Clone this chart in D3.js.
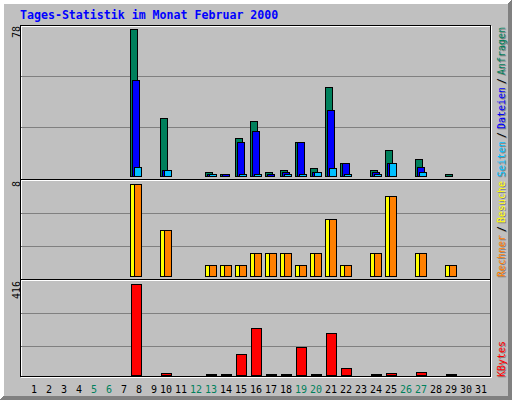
<!DOCTYPE html>
<html>
<head>
<meta charset="utf-8">
<script src="https://cdn.jsdelivr.net/npm/d3@7"></script>
<style>
  body { margin: 0; background: #c0c0c0; }
  text { font-family: "DejaVu Sans Mono", monospace; }
</style>
</head>
<body>
<div id="chart"></div>
<script>
// daily values for February 2000 (index 0 = day 1)
var days = [1, 2, 3, 4, 5, 6, 7, 8, 9, 10, 11, 12, 13, 14, 15, 16, 17, 18, 19, 20, 21, 22, 23, 24, 25, 26, 27, 28, 29, 30, 31];
var weekendDays = [5, 6, 12, 13, 19, 20, 26, 27];

var hits   = [0, 0, 0, 0, 0, 0, 0, 78, 0, 31, 0, 0, 2, 1, 20, 29, 2, 3, 18, 4, 47, 7, 0, 3, 14, 0, 9, 0, 1, 0, 0];
var files  = [0, 0, 0, 0, 0, 0, 0, 51, 0, 3, 0, 0, 1, 1, 18, 24, 1, 2, 18, 2, 35, 7, 0, 2, 7, 0, 5, 0, 0, 0, 0];
var pages  = [0, 0, 0, 0, 0, 0, 0, 5, 0, 3, 0, 0, 1, 0, 1, 1, 0, 1, 1, 2, 4, 1, 0, 1, 7, 0, 2, 0, 0, 0, 0];
var visits = [0, 0, 0, 0, 0, 0, 0, 8, 0, 4, 0, 0, 1, 1, 1, 2, 2, 2, 1, 2, 5, 1, 0, 2, 7, 0, 2, 0, 1, 0, 0];
var sites  = [0, 0, 0, 0, 0, 0, 0, 8, 0, 4, 0, 0, 1, 1, 1, 2, 2, 2, 1, 2, 5, 1, 0, 2, 7, 0, 2, 0, 1, 0, 0];
var kbytes = [0, 0, 0, 0, 0, 0, 0, 416, 0, 8, 0, 0, 4, 4, 95, 213, 4, 4, 128, 4, 190, 30, 0, 4, 9, 0, 14, 0, 4, 0, 0];

var title = "Tages-Statistik im Monat Februar 2000";

var grey = "#c0c0c0", dkgrey = "#808080";
var hitColor = "#00805c", fileColor = "#0000ff", pageColor = "#00c0ff";
var visitColor = "#ffff00", siteColor = "#ff8000", kbyteColor = "#ff0000";

var svgWidth = 512;
var svgHeight = 400;

var svg = d3.select("#chart")
  .append("svg")
  .attr("width", svgWidth)
  .attr("height", svgHeight)
  .style("display", "block")
  .attr("shape-rendering", "crispEdges");

svg.append("rect")
  .attr("width", svgWidth)
  .attr("height", svgHeight)
  .attr("fill", grey);

// raised outer border
d3.range(4).forEach(function(i) {
  svg.append("rect").attr("x", i).attr("y", i).attr("width", svgWidth - 2 * i).attr("height", 1).attr("fill", "#fff");
  svg.append("rect").attr("x", i).attr("y", i).attr("width", 1).attr("height", svgHeight - 2 * i).attr("fill", "#fff");
  svg.append("rect").attr("x", i).attr("y", svgHeight - 1 - i).attr("width", svgWidth - 2 * i).attr("height", 1).attr("fill", dkgrey);
  svg.append("rect").attr("x", svgWidth - 1 - i).attr("y", i).attr("width", 1).attr("height", svgHeight - 2 * i).attr("fill", dkgrey);
});

// title
svg.append("text")
  .attr("x", 20)
  .attr("y", 18.5)
  .attr("font-size", "11.6px")
  .attr("font-weight", "bold")
  .attr("fill", "#0000ff")
  .text(title);

// plot frame
svg.append("rect")
  .attr("x", 21.5).attr("y", 26.5)
  .attr("width", 470).attr("height", 351)
  .attr("fill", "none").attr("stroke", "#fff");
svg.append("rect")
  .attr("x", 20.5).attr("y", 25.5)
  .attr("width", 470).attr("height", 351)
  .attr("fill", "none").attr("stroke", "#000");

// panels: top edge, base pixel row, bar height for max value
var panels = [
  {top: 25, base: 176, span: 147, step: 51},
  {top: 180, base: 276, span: 92, step: 33},
  {top: 280, base: 375, span: 91, step: 33}
];

// separators between panels
[179, 279].forEach(function(y) {
  svg.append("line").attr("x1", 21).attr("x2", 490).attr("y1", y + 0.5).attr("y2", y + 0.5).attr("stroke", "#000");
  svg.append("line").attr("x1", 21).attr("x2", 490).attr("y1", y + 1.5).attr("y2", y + 1.5).attr("stroke", "#fff");
});

// grid lines
panels.forEach(function(p) {
  [1, 2].forEach(function(k) {
    svg.append("line")
      .attr("x1", 21).attr("x2", 490)
      .attr("y1", p.top + k * p.step + 0.5).attr("y2", p.top + k * p.step + 0.5)
      .attr("stroke", dkgrey);
  });
});

var xBand = d3.scaleBand()
  .domain(days)
  .range([25, 25 + days.length * 15]);

var yHits = d3.scaleLinear().domain([0, d3.max(hits)]).range([panels[0].base, panels[0].base - panels[0].span]);
var yVisits = d3.scaleLinear().domain([0, d3.max(visits)]).range([panels[1].base, panels[1].base - panels[1].span]);
var yKbytes = d3.scaleLinear().domain([0, d3.max(kbytes)]).range([panels[2].base, panels[2].base - panels[2].span]);

function drawBars(values, yScale, offset, w, color) {
  var base = yScale(0);
  var data = days.map(function(d, i) { return {day: d, v: values[i]}; })
    .filter(function(d) { return d.v > 0; });
  svg.append("g").selectAll("rect").data(data).enter()
    .append("rect")
    .attr("x", d => xBand(d.day) + offset + 0.5)
    .attr("y", d => Math.min(Math.round(yScale(d.v)), base - 1) + 0.5)
    .attr("width", w - 1)
    .attr("height", d => base - Math.min(Math.round(yScale(d.v)), base - 1))
    .attr("fill", color)
    .attr("stroke", "#000");
}

drawBars(hits, yHits, 0, 8, hitColor);
drawBars(files, yHits, 2, 8, fileColor);
drawBars(pages, yHits, 4, 8, pageColor);
drawBars(visits, yVisits, 0, 8, visitColor);
drawBars(sites, yVisits, 4, 8, siteColor);
drawBars(kbytes, yKbytes, 1, 11, kbyteColor);

// x axis day labels
svg.append("g").selectAll("text").data(days).enter()
  .append("text")
  .attr("x", d => xBand(d) + 12)
  .attr("y", 392.5)
  .attr("font-size", "10px")
  .attr("text-anchor", "end")
  .attr("fill", d => weekendDays.indexOf(d) >= 0 ? hitColor : "#000")
  .text(d => d);

// max value labels, rotated
[[d3.max(hits), 25], [d3.max(visits), 180], [d3.max(kbytes), 280]].forEach(function(m) {
  var s = String(m[0]);
  svg.append("text")
    .attr("transform", "translate(19.5," + (m[1] + 1 + s.length * 6) + ") rotate(-90)")
    .attr("font-size", "10px")
    .attr("fill", "#000")
    .text(s);
});

// right side legends, written upwards with a grey shadow
var legends = [
  {start: 177, items: [["Seiten", pageColor], ["/", "#000"], ["Dateien", fileColor], ["/", "#000"], ["Anfragen", hitColor]]},
  {start: 277, items: [["Rechner", siteColor], ["/", "#000"], ["Besuche", visitColor]]},
  {start: 377, items: [["KBytes", kbyteColor]]}
];

legends.forEach(function(lg) {
  var y = lg.start;
  lg.items.forEach(function(it) {
    svg.append("text")
      .attr("transform", "translate(505.5," + (y + 1) + ") rotate(-90)")
      .attr("font-size", "10px")
      .attr("fill", dkgrey)
      .text(it[0]);
    svg.append("text")
      .attr("transform", "translate(504.5," + y + ") rotate(-90)")
      .attr("font-size", "10px")
      .attr("fill", it[1])
      .text(it[0]);
    y -= it[0].length * 6 + 3;
  });
});
</script>
</body>
</html>
